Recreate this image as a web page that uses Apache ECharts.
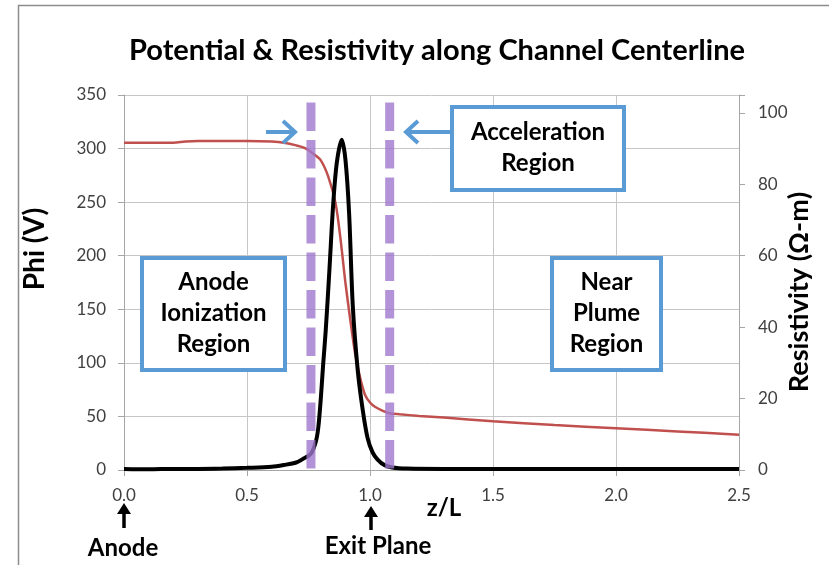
<!DOCTYPE html>
<html>
<head>
<meta charset="utf-8">
<script src="https://cdn.jsdelivr.net/npm/echarts@6/dist/echarts.min.js"></script>
<style>
  html, body { margin: 0; padding: 0; background: #fff; }
  #chart { width: 829px; height: 565px; }
</style>
</head>
<body>
<div id="chart"></div>
<script>
// potential along centerline (left axis, V)
const phiZ = [0, 0.1, 0.2, 0.25, 0.3, 0.4, 0.5, 0.6, 0.65, 0.7, 0.74, 0.77, 0.8, 0.83, 0.86, 0.88, 0.9, 0.92, 0.94, 0.96, 0.98, 1.0, 1.02, 1.05, 1.08, 1.12, 1.2, 1.3, 1.5, 1.75, 2.0, 2.25, 2.5]
const phiV = [305.5, 305.5, 305.5, 306.5, 307, 307, 307, 306.5, 305.5, 303, 300, 295, 289, 274, 249, 216, 175, 140, 108, 86, 70, 63, 59, 55.5, 53, 52, 50.5, 49, 45.5, 42, 39, 36, 33]

// resistivity along centerline (right axis, ohm-m)
const resZ = [0, 0.1, 0.2, 0.3, 0.4, 0.5, 0.6, 0.65, 0.7, 0.73, 0.76, 0.78, 0.79, 0.8, 0.81, 0.82, 0.835, 0.85, 0.865, 0.885, 0.9, 0.915, 0.93, 0.95, 0.97, 0.99, 1.01, 1.03, 1.06, 1.09, 1.15, 1.3, 1.5, 2.0, 2.5]
const resR = [0.3, 0.2, 0.3, 0.3, 0.4, 0.6, 0.9, 1.4, 2.1, 3.2, 4.6, 8, 12, 20, 30, 39, 56, 74, 86, 92.5, 87, 72, 46, 28, 17, 9, 5, 3, 1.3, 0.7, 0.4, 0.3, 0.3, 0.3, 0.3]

// boundaries of the acceleration region (z/L)
const regionBounds = [0.76, 1.08]
const regionTop = 343

const xTicks = { min: 0, max: 2.5, interval: 0.5 }
const phiTicks = { min: 0, max: 350, interval: 50 }
const resTicks = { min: 0, max: 105, interval: 20 }

const FONT = 'Lato, "Open Sans", sans-serif'
const BLUE = '#5b9bd5'

const chartInstance = echarts.init(document.getElementById('chart'))

const pairs = (xs, ys) => xs.map((x, i) => [x, ys[i]])

const boundSeries = regionBounds.map(z => ({
  type: 'line',
  yAxisIndex: 0,
  symbol: 'none',
  silent: true,
  z: 5,
  lineStyle: { color: 'rgba(160, 120, 205, 0.8)', width: 9, type: [28.5, 9], cap: 'butt' },
  data: [[z, regionTop], [z, 0]]
}))

// text box helper for the region annotations
const regionBox = (x, y, w, h, lines) => ({
  type: 'group',
  left: x,
  top: y,
  z: 100,
  children: [
    {
      type: 'rect',
      z: 100,
      shape: { x: 0, y: 0, width: w, height: h },
      style: { fill: '#fff', stroke: BLUE, lineWidth: 4 }
    },
    {
      type: 'text',
      z: 101,
      x: w / 2,
      y: h / 2 - 1,
      style: {
        text: lines.join('\n'),
        font: 'bold 24px ' + FONT,
        fill: '#000',
        align: 'center',
        verticalAlign: 'middle',
        lineHeight: 31
      }
    }
  ]
})

const arrow = (pts, head) => [
  { type: 'polyline', z: 100, shape: { points: pts }, style: { stroke: BLUE, lineWidth: 4, fill: null } },
  { type: 'polyline', z: 100, shape: { points: head }, style: { stroke: BLUE, lineWidth: 4, fill: null, lineJoin: 'miter' } }
]

const upArrow = (x, y0, y1) => [
  { type: 'line', shape: { x1: x, y1: y1, x2: x, y2: y0 + 6 }, style: { stroke: '#000', lineWidth: 3.5 } },
  { type: 'polygon', shape: { points: [[x, y0], [x - 7, y0 + 11], [x + 7, y0 + 11]] }, style: { fill: '#000' } }
]

const option = {
  animation: false,
  backgroundColor: '#fff',
  title: {
    text: 'Potential & Resistivity along Channel Centerline',
    left: 432,
    top: 31,
    textAlign: 'center',
    textStyle: { fontFamily: FONT, fontWeight: 'bold', fontSize: 29, color: '#000' }
  },
  grid: { left: 124, right: 90, top: 95, bottom: 95, containLabel: false },
  xAxis: {
    type: 'value',
    ...xTicks,
    axisLine: { show: true, onZero: false, lineStyle: { color: '#a6a6a6' } },
    axisTick: { show: true, length: 6, lineStyle: { color: '#a6a6a6' } },
    splitLine: { show: true, lineStyle: { color: '#c6c6c6' } },
    axisLabel: {
      margin: 17,
      fontFamily: FONT,
      fontSize: 17,
      color: '#404040',
      formatter: v => v.toFixed(1)
    }
  },
  yAxis: [
    {
      type: 'value',
      position: 'left',
      ...phiTicks,
      axisLine: { show: true, lineStyle: { color: '#a6a6a6' } },
      axisTick: { show: true, length: 6, lineStyle: { color: '#a6a6a6' } },
      splitLine: { show: true, lineStyle: { color: '#c6c6c6' } },
      axisLabel: { margin: 18, fontFamily: FONT, fontSize: 17, color: '#404040' }
    },
    {
      type: 'value',
      position: 'right',
      ...resTicks,
      axisLine: { show: true, lineStyle: { color: '#a6a6a6' } },
      axisTick: { show: true, length: 6, lineStyle: { color: '#a6a6a6' } },
      splitLine: { show: false },
      axisLabel: {
        margin: 19,
        fontFamily: FONT,
        fontSize: 17,
        color: '#404040',
        formatter: v => (v % 20 === 0 ? String(v) : '')
      }
    }
  ],
  series: [
    {
      name: 'Phi',
      type: 'line',
      yAxisIndex: 0,
      symbol: 'none',
      smooth: 0.3,
      z: 3,
      lineStyle: { color: '#c0504d', width: 2.5 },
      data: pairs(phiZ, phiV)
    },
    {
      name: 'Resistivity',
      type: 'line',
      yAxisIndex: 1,
      symbol: 'none',
      smooth: 0.3,
      z: 4,
      lineStyle: { color: '#000', width: 4 },
      data: pairs(resZ, resR)
    },
    ...boundSeries
  ],
  graphic: [
    // outer chart frame
    { type: 'rect', shape: { x: 18.5, y: 5.5, width: 900, height: 700 }, style: { fill: null, stroke: '#8c8c8c', lineWidth: 1.5 }, z: -1 },
    // axis titles
    { type: 'text', x: 35, y: 249, rotation: Math.PI / 2, style: { text: 'Phi (V)', font: 'bold 28px ' + FONT, fill: '#000', align: 'center', verticalAlign: 'middle' } },
    { type: 'text', x: 799, y: 292, rotation: Math.PI / 2, style: { text: 'Resistivity (Ω-m)', font: 'bold 27px ' + FONT, fill: '#000', align: 'center', verticalAlign: 'middle' } },
    { type: 'text', x: 444, y: 508, style: { text: 'z/L', font: 'bold 24px ' + FONT, fill: '#000', align: 'center', verticalAlign: 'middle' } },
    // region labels
    regionBox(140, 256, 143, 112, ['Anode', 'Ionization', 'Region']),
    regionBox(450, 105, 172, 83, ['Acceleration', 'Region']),
    regionBox(550, 256, 109, 112, ['Near', 'Plume', 'Region']),
    // arrows pointing at the acceleration region bounds
    ...arrow([[266, 132], [295, 132]], [[283, 121], [295, 132], [283, 143]]),
    ...arrow([[450, 132], [406, 132]], [[418, 121], [406, 132], [418, 143]]),
    // markers under the axis
    ...upArrow(124, 503, 528),
    ...upArrow(371, 506, 530),
    { type: 'text', x: 123, y: 548, style: { text: 'Anode', font: 'bold 24px ' + FONT, fill: '#000', align: 'center', verticalAlign: 'middle' } },
    { type: 'text', x: 378, y: 546, style: { text: 'Exit Plane', font: 'bold 24px ' + FONT, fill: '#000', align: 'center', verticalAlign: 'middle' } }
  ]
}

chartInstance.setOption(option)
</script>
</body>
</html>
